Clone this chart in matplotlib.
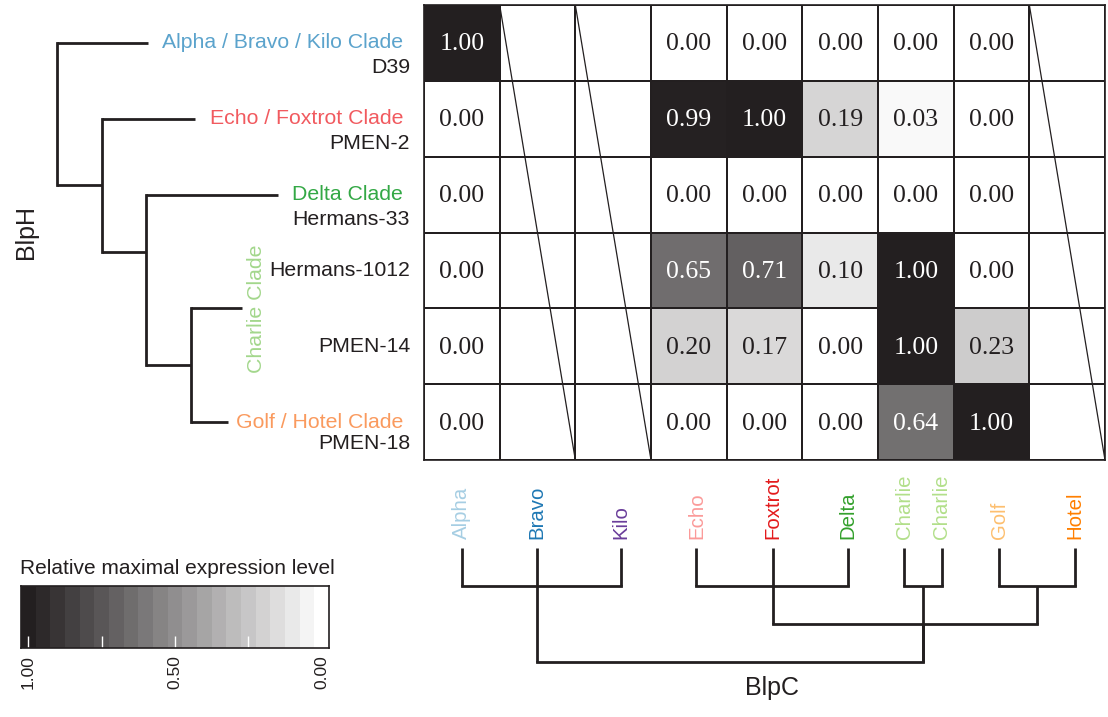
import matplotlib.pyplot as plt
import numpy as np
from matplotlib.colors import LinearSegmentedColormap

plt.rcParams['font.family'] = ['Liberation Sans', 'DejaVu Sans']

# heatmap data (rows = BlpH strains, columns = BlpC types)
strains = ['D39', 'PMEN-2', 'Hermans-33', 'Hermans-1012', 'PMEN-14', 'PMEN-18']
blpc_types = ['Alpha', 'Bravo', 'Kilo', 'Echo', 'Foxtrot', 'Delta', 'Charlie', 'Golf', 'Hotel']
alpha_vals = [1.00, 0.00, 0.00, 0.00, 0.00, 0.00]
echo_vals = [0.00, 0.99, 0.00, 0.65, 0.20, 0.00]
foxtrot_vals = [0.00, 1.00, 0.00, 0.71, 0.17, 0.00]
delta_vals = [0.00, 0.19, 0.00, 0.10, 0.00, 0.00]
charlie_vals = [0.00, 0.03, 0.00, 1.00, 1.00, 0.64]
golf_vals = [0.00, 0.00, 0.00, 0.00, 0.23, 1.00]
no_data = [np.nan] * 6   # Bravo, Kilo, Hotel not measured

# BlpH tree (left)
clades = ['Alpha / Bravo / Kilo Clade', 'Echo / Foxtrot Clade', 'Delta Clade',
          'Charlie Clade', 'Golf / Hotel Clade']
clade_colors = ['#5ba3cc', '#f15a5f', '#33a845', '#a3d78c', '#fa9a5e']
clade_row = [0.5, 1.5, 2.5, 4.0, 5.5]
clade_tip = [148, 195, 278, 242, 228]
# merges: (children, depth, junction row or None for middle)
row_merges = [((3, 4), 191, None), ((2, 5), 146, 3.26), ((1, 6), 102, None), ((0, 7), 57, None)]

# BlpC tree (bottom)
leaves = ['Alpha', 'Bravo', 'Kilo', 'Echo', 'Foxtrot', 'Delta', 'Charlie', 'Charlie', 'Golf', 'Hotel']
leaf_colors = ['#a6cee3', '#1f78b4', '#6a3d9a', '#fb9a99', '#e31a1c', '#33a02c',
               '#b2df8a', '#b2df8a', '#fdbf6f', '#ff7f00']
leaf_pos = [0.5, 1.49, 2.6, 3.6, 4.61, 5.6, 6.35, 6.84, 7.6, 8.6]
# merges: (children, height, anchor child or None for middle)
col_merges = [((0, 1, 2), 1, 1), ((3, 4, 5), 1, 4), ((6, 7), 1, None), ((8, 9), 1, None),
              ((11, 13), 2, 12), ((10, 12, 14), 3, 10)]

cbar_vals = np.linspace(1, 0, 21)
cbar_ticks = ['1.00', '', '0.50', '', '0.00']

W, H = 1108, 717
ink = '#231f20'
cmap = LinearSegmentedColormap.from_list('grey', ['#ffffff', ink])


def box(l, t, r, b):
    return [l / W, 1 - b / H, (r - l) / W, (b - t) / H]


fig = plt.figure(figsize=(W / 100, H / 100), dpi=100)

# heatmap
ax = fig.add_axes(box(424, 5, 1105, 460))
M = np.column_stack([alpha_vals, no_data, no_data, echo_vals, foxtrot_vals,
                     delta_vals, charlie_vals, golf_vals, no_data])
ax.pcolormesh(np.ma.masked_invalid(M), cmap=cmap, vmin=0, vmax=1,
              edgecolors=ink, linewidth=1.2)
ax.vlines(np.arange(M.shape[1] + 1), 0, M.shape[0], color=ink, lw=1.2)
for i in range(M.shape[0]):
    for j in range(M.shape[1]):
        v = M[i, j]
        if np.isnan(v):
            continue
        ax.text(j + 0.5, i + 0.52, '%.2f' % v, ha='center', va='center',
                family='Liberation Serif', size=18.5,
                color='white' if v >= 0.5 else ink)
for j in range(M.shape[1]):
    if np.isnan(M[:, j]).all():
        ax.plot([j, j + 1], [0, M.shape[0]], color=ink, lw=0.9)
ax.set_xlim(0, M.shape[1])
ax.set_ylim(M.shape[0], 0)
ax.set_xticks([])
ax.set_yticks([])
for s in ax.spines.values():
    s.set_color(ink)
    s.set_linewidth(1.2)

# BlpH dendrogram
ax2 = fig.add_axes(box(0, 5, 424, 460))
ax2.set_xlim(0, 424)
ax2.set_ylim(6, 0)
ax2.axis('off')
ny = list(clade_row)
nx = list(clade_tip)
for kids, depth, junction in row_merges:
    ys = [ny[k] for k in kids]
    ax2.plot([depth, depth], [min(ys), max(ys)], color=ink, lw=2,
             solid_capstyle='projecting', clip_on=False)
    for k in kids:
        ax2.plot([depth, nx[k]], [ny[k], ny[k]], color=ink, lw=2,
                 solid_capstyle='butt', clip_on=False)
    ny.append(np.mean(ys) if junction is None else junction)
    nx.append(depth)
for i, name in enumerate(clades):
    if name == 'Charlie Clade':
        ax2.text(257, clade_row[i], name, rotation=90, ha='center', va='center',
                 color=clade_colors[i], size=15.3)
    else:
        ax2.text(403, clade_row[i], name, ha='right', va='center',
                 color=clade_colors[i], size=15.3)
strain_y = [0.83, 1.83, 2.83, 3.5, 4.5, 5.78]
for s, y in zip(strains, strain_y):
    ax2.text(410, y, s, ha='right', va='center', color=ink, size=15.3)

# BlpC dendrogram
ax3 = fig.add_axes(box(424, 548, 1105, 662))
ax3.set_xlim(0, 9)
ax3.set_ylim(3, 0)
ax3.axis('off')
cx = list(leaf_pos)
ch = [0] * len(leaf_pos)
for kids, h, anchor in col_merges:
    xs = [cx[k] for k in kids]
    ax3.plot([min(xs), max(xs)], [h, h], color=ink, lw=2,
             solid_capstyle='projecting', clip_on=False)
    for k in kids:
        ax3.plot([cx[k], cx[k]], [ch[k], h], color=ink, lw=2,
                 solid_capstyle='butt', clip_on=False)
    cx.append(np.mean(xs) if anchor is None else cx[anchor])
    ch.append(h)
for x, name, c in zip(leaf_pos, leaves, leaf_colors):
    ax3.text(x, -0.24, name, rotation=90, ha='center', va='bottom', color=c,
             size=14.7, clip_on=False)

fig.text(772 / W, 1 - 688 / H, 'BlpC', ha='center', va='center', size=18, color=ink)
fig.text(26 / W, 1 - 232 / H, 'BlpH', ha='center', va='center', size=18,
         rotation=90, color=ink)

# colour scale
ax4 = fig.add_axes(box(21, 586, 329, 648))
ax4.imshow(cbar_vals[None, :], cmap=cmap, vmin=0, vmax=1, aspect='auto')
ax4.set_yticks([])
ax4.set_xticks(np.arange(0, 21, 5))
ax4.set_xticklabels(cbar_ticks, rotation=90, size=12.5, color=ink)
ax4.tick_params(axis='x', direction='in', color='white', length=9, width=1, pad=5)
for s in ax4.spines.values():
    s.set_color(ink)
    s.set_linewidth(1.2)
fig.text(20 / W, 1 - 569 / H, 'Relative maximal expression level', ha='left',
         va='center', size=15, color=ink)

fig.savefig('out.png', dpi=100)
